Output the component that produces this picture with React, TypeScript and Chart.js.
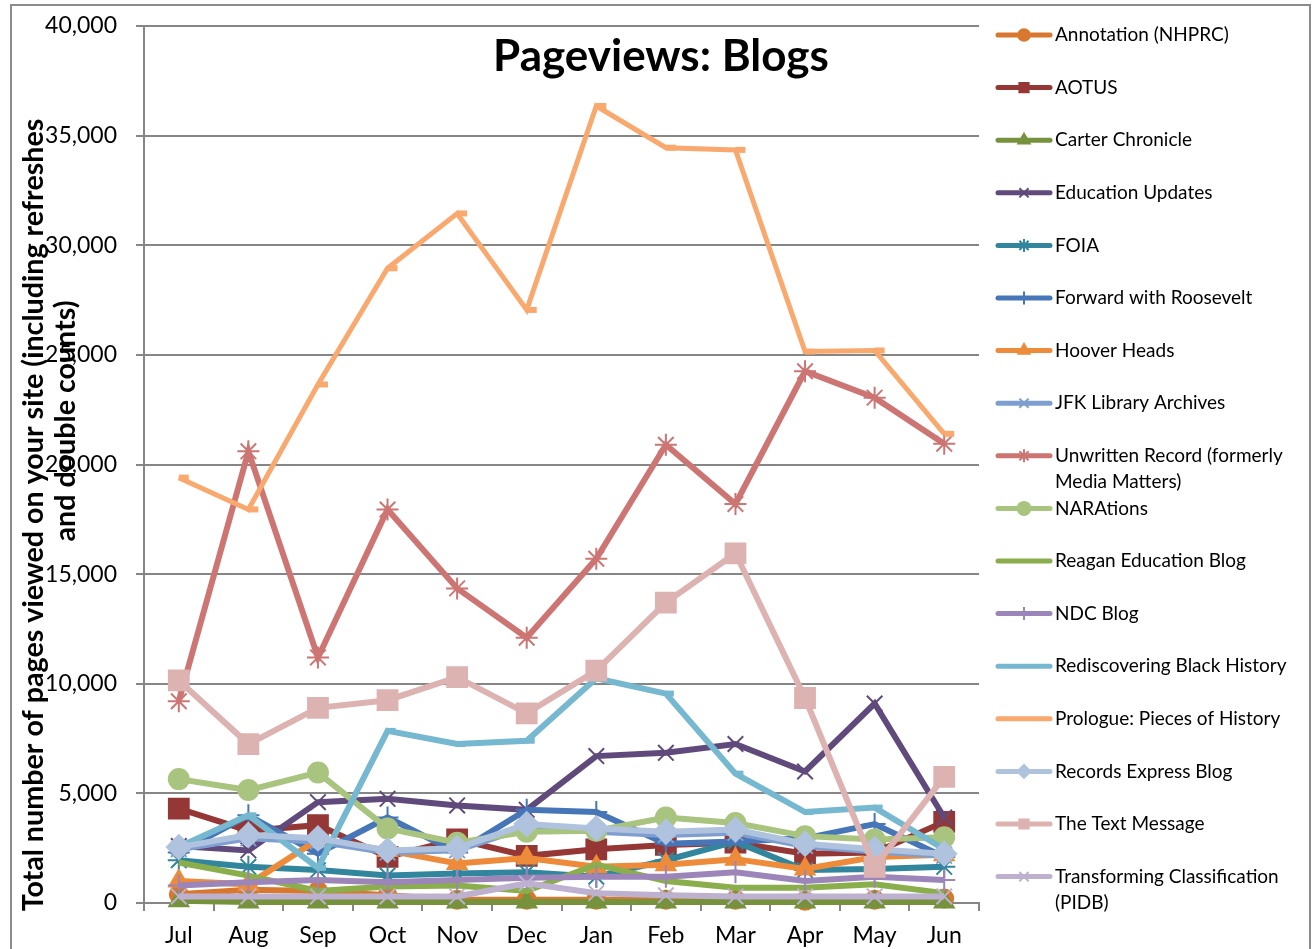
import React, { useEffect, useRef } from 'react';
import { Chart, registerables } from 'chart.js';
import { drawPoint } from 'chart.js/helpers';

Chart.register(...registerables);

const MONTHS = ['Jul', 'Aug', 'Sep', 'Oct', 'Nov', 'Dec', 'Jan', 'Feb', 'Mar', 'Apr', 'May', 'Jun'];
const Y_TICKS = [0, 5000, 10000, 15000, 20000, 25000, 30000, 35000, 40000];
const TITLE = 'Pageviews: Blogs';
const Y_TITLE_LINES = ['Total number of pages viewed on your site (including refreshes', 'and double counts)'];

const annotation = [400, 600, 550, 350, 150, 150, 150, 150, 150, 100, 150, 200];
const aotus = [4300, 3300, 3550, 2100, 2900, 2150, 2450, 2650, 2750, 2250, 2300, 3700];
const carter = [100, 50, 50, 50, 50, 50, 50, 50, 50, 50, 50, 50];
const education = [2600, 2400, 4600, 4750, 4450, 4250, 6700, 6850, 7250, 6000, 9100, 3900];
const foia = [1950, 1650, 1500, 1250, 1350, 1400, 1200, 1950, 2800, 1500, 1550, 1650];
const forward = [2300, 4000, 2250, 3900, 2300, 4250, 4150, 2700, 2800, 2950, 3600, 2100];
const hoover = [1000, 850, 2900, 2400, 1800, 2050, 1650, 1750, 2000, 1550, 2100, 2200];
const jfk = [2450, 2950, 2800, 2300, 2400, 3450, 3250, 3100, 3200, 2600, 2350, 2150];
const unwritten = [9200, 20600, 11200, 17950, 14350, 12100, 15700, 20900, 18200, 24250, 23050, 20950];
const narations = [5650, 5150, 5950, 3400, 2750, 3250, 3300, 3900, 3650, 3050, 2900, 3000];
const reagan = [1850, 1250, 550, 750, 800, 550, 1750, 1000, 700, 700, 850, 450];
const ndc = [800, 950, 1050, 950, 1050, 1150, 1200, 1200, 1400, 1000, 1200, 1050];
const rediscovering = [2550, 4000, 1600, 7850, 7250, 7400, 10250, 9550, 5900, 4150, 4350, 2450];
const prologue = [19400, 17950, 23650, 28950, 31450, 27050, 36350, 34450, 34350, 25150, 25200, 21400];
const recordsExpress = [2550, 3100, 2950, 2400, 2500, 3600, 3400, 3250, 3350, 2700, 2450, 2250];
const textMessage = [10150, 7250, 8900, 9250, 10300, 8650, 10600, 13700, 15950, 9350, 1650, 5750];
const transforming = [300, 300, 300, 300, 300, 900, 450, 350, 300, 300, 300, 300];

const SERIES_NAMES = [
  'Annotation (NHPRC)', 'AOTUS', 'Carter Chronicle', 'Education Updates', 'FOIA',
  'Forward with Roosevelt', 'Hoover Heads', 'JFK Library Archives',
  'Unwritten Record (formerly Media Matters)', 'NARAtions', 'Reagan Education Blog', 'NDC Blog',
  'Rediscovering Black History', 'Prologue: Pieces of History', 'Records Express Blog',
  'The Text Message', 'Transforming Classification (PIDB)',
];
const LEGEND_LINES = [
  ['Annotation (NHPRC)'], ['AOTUS'], ['Carter Chronicle'], ['Education Updates'], ['FOIA'],
  ['Forward with Roosevelt'], ['Hoover Heads'], ['JFK Library Archives'],
  ['Unwritten Record (formerly', 'Media Matters)'], ['NARAtions'], ['Reagan Education Blog'], ['NDC Blog'],
  ['Rediscovering Black History'], ['Prologue: Pieces of History'], ['Records Express Blog'],
  ['The Text Message'], ['Transforming Classification', '(PIDB)'],
];
const SERIES_VALUES = [
  annotation, aotus, carter, education, foia, forward, hoover, jfk, unwritten, narations,
  reagan, ndc, rediscovering, prologue, recordsExpress, textMessage, transforming,
];
const COLORS = [
  '#D8782F', '#953735', '#76923C', '#604A7B', '#31859C', '#4676B8', '#EE8B3A', '#7E9ED0',
  '#CD7573', '#A9C47F', '#8BAE4C', '#9C85B8', '#75B8CF', '#F9A86E', '#AFC2DE', '#DDB3B2', '#BDB1CF',
];
const MARKERS: any[] = [
  'circle', 'rect', 'triangle', 'crossRot', 'star', 'cross', 'triangle', 'crossRot',
  'star', 'circle', false, 'cross', 'dash', 'dash', 'rectRot', 'rect', 'crossRot',
];
const MARKER_RADIUS = [9, 14, 11, 11, 11, 11, 11, 11, 11, 10, 0, 11, 8, 10, 12, 14, 11];
const LEGEND_MARKER = [true, true, true, true, true, true, true, true, true, true, false, true, false, false, true, true, true];

const FONT = 'Lato, "Open Sans", sans-serif';

function fitFont(ctx: CanvasRenderingContext2D, text: string, weight: string, target: number) {
  ctx.font = `${weight} 20px ${FONT}`;
  const w = ctx.measureText(text).width;
  return (20 * target) / w;
}

const decorPlugin = {
  id: 'decor',
  beforeDraw(chart: any) {
    const ctx = chart.ctx as CanvasRenderingContext2D;
    ctx.save();
    ctx.fillStyle = '#ffffff';
    ctx.fillRect(0, 0, chart.width, chart.height);
    ctx.strokeStyle = '#8C8C8C';
    ctx.lineWidth = 2;
    ctx.strokeRect(11, 5, 1299, 1000);
    ctx.restore();
  },
  afterDraw(chart: any) {
    const ctx = chart.ctx as CanvasRenderingContext2D;
    ctx.save();
    // Title
    const tSize = fitFont(ctx, TITLE, 'bold', 336);
    ctx.font = `bold ${tSize}px ${FONT}`;
    ctx.fillStyle = '#000';
    ctx.textAlign = 'center';
    ctx.textBaseline = 'alphabetic';
    ctx.fillText(TITLE, 661, 71);

    // Y axis title (two rotated lines)
    const ySize = fitFont(ctx, Y_TITLE_LINES[0], 'bold', 793);
    ctx.font = `bold ${ySize}px ${FONT}`;
    ctx.textBaseline = 'middle';
    const yPos = [[34, 515], [66, 421]];
    Y_TITLE_LINES.forEach((line, i) => {
      ctx.save();
      ctx.translate(yPos[i][0], yPos[i][1]);
      ctx.rotate(-Math.PI / 2);
      ctx.fillText(line, 0, 0);
      ctx.restore();
    });

    // Legend
    ctx.font = `19px ${FONT}`;
    ctx.textAlign = 'left';
    ctx.textBaseline = 'middle';
    SERIES_NAMES.forEach((_, i) => {
      const y = 35 + 52.6 * i;
      const c = COLORS[i];
      ctx.strokeStyle = c;
      ctx.lineWidth = 5;
      ctx.lineCap = 'round';
      ctx.beginPath();
      ctx.moveTo(998, y);
      ctx.lineTo(1050, y);
      ctx.stroke();
      if (LEGEND_MARKER[i]) {
        ctx.fillStyle = c;
        ctx.strokeStyle = c;
        ctx.lineCap = 'butt';
        ctx.lineWidth = 2;
        drawPoint(ctx, { pointStyle: MARKERS[i], radius: Math.min(MARKER_RADIUS[i], 10) * 0.65, rotation: 0, borderWidth: 2 } as any, 1024, y);
      }
      ctx.fillStyle = '#000';
      LEGEND_LINES[i].forEach((t, k) => {
        ctx.fillText(t, 1055, y + k * 26);
      });
    });
    ctx.restore();
  },
};

export default function App() {
  const ref = useRef<HTMLCanvasElement | null>(null);
  useEffect(() => {
    if (!ref.current) return;
    const n = SERIES_NAMES.length;
    const datasets = SERIES_NAMES.map((name, i) => ({
      label: name,
      data: SERIES_VALUES[i],
      borderColor: COLORS[i],
      backgroundColor: COLORS[i],
      pointBackgroundColor: COLORS[i],
      pointBorderColor: COLORS[i],
      borderWidth: i === 13 ? 5 : 6,
      pointStyle: MARKERS[i],
      pointRadius: MARKER_RADIUS[i],
      pointBorderWidth: MARKERS[i] === 'dash' ? 6 : 2,
      tension: 0,
      clip: false as any,
      order: n - i,
    }));
    const chart = new Chart(ref.current, {
      type: 'line',
      data: { labels: MONTHS, datasets },
      options: {
        responsive: false,
        animation: false,
        events: [],
        layout: { padding: { top: 26, right: 333, bottom: 0, left: 0 } },
        plugins: { legend: { display: false }, title: { display: false }, tooltip: { enabled: false } },
        scales: {
          x: {
            type: 'category',
            offset: true,
            grid: { display: true, drawOnChartArea: false, drawTicks: true, tickLength: 8, offset: true, color: '#868686', lineWidth: 2 },
            border: { display: true, color: '#868686', width: 2 },
            ticks: { color: '#000', font: { family: FONT, size: 23 }, padding: 11, maxRotation: 0, autoSkip: false },
            afterFit: (s: any) => { s.height = 46; s.paddingLeft = 0; s.paddingRight = 0; },
          },
          y: {
            min: 0,
            max: 40000,
            afterBuildTicks: (s: any) => { s.ticks = Y_TICKS.map((v) => ({ value: v })); },
            ticks: { color: '#000', font: { family: FONT, size: 23 }, padding: 19, callback: (v: any) => Number(v).toLocaleString('en-US') },
            grid: { color: '#868686', lineWidth: 2, tickLength: 8 },
            border: { display: true, color: '#868686', width: 2 },
            afterFit: (s: any) => { s.width = 144; s.paddingTop = 0; s.paddingBottom = 0; },
          },
        },
      } as any,
      plugins: [decorPlugin],
    });
    return () => chart.destroy();
  }, []);
  return (
    <div style={{ position: 'fixed', left: 0, top: 0, width: 1312, height: 949, background: '#fff' }}>
      <canvas ref={ref} width={1312} height={949} style={{ display: 'block', width: 1312, height: 949 }} />
    </div>
  );
}
